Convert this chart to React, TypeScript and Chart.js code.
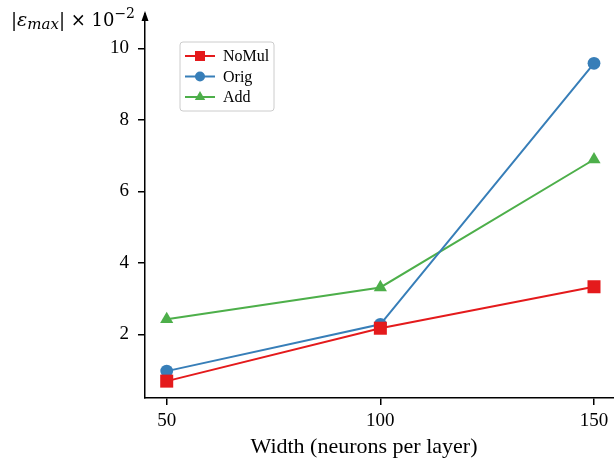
import React, { useEffect, useRef } from "react";
import { Chart, registerables } from "chart.js";

Chart.register(...registerables);

const widths = [50, 100, 150];
const noMul = [0.69, 2.17, 3.33];
const orig = [0.97, 2.28, 9.58];
const add = [2.42, 3.31, 6.89];
const xTicks = [50, 100, 150];
const yTicks = [2, 4, 6, 8, 10];
const seriesLabels = ["NoMul", "Orig", "Add"];
const seriesColors = ["#e41a1c", "#377eb8", "#4daf4a"];
const xTitle = "Width (neurons per layer)";

const SERIF = "'Liberation Serif', 'Times New Roman', serif";
const MATH = "'DejaVu Serif', serif";

const PLOT_RIGHT = 614;

const areaPlugin = {
  id: "forceArea",
  afterLayout(chart: any) {
    const a = chart.chartArea;
    if (a.right !== PLOT_RIGHT) {
      a.right = PLOT_RIGHT;
      a.width = a.right - a.left;
      const xs = chart.scales.x;
      xs.right = PLOT_RIGHT;
      xs.width = xs.right - xs.left;
      xs.configure();
    }
  },
};

const decorPlugin = {
  id: "decor",
  afterDraw(chart: any) {
    const ctx = chart.ctx as CanvasRenderingContext2D;
    const area = chart.chartArea;
    ctx.save();
    // y axis arrow
    ctx.fillStyle = "#000";
    ctx.beginPath();
    ctx.moveTo(area.left, area.top - 3);
    ctx.lineTo(area.left - 3.5, area.top + 7);
    ctx.lineTo(area.left + 3.5, area.top + 7);
    ctx.closePath();
    ctx.fill();

    // y title: |ε_max| × 10^-2
    ctx.textBaseline = "alphabetic";
    ctx.textAlign = "left";
    let x = 11;
    const base = 26;
    const put = (t: string, font: string, dy = 0) => {
      ctx.font = font;
      ctx.fillText(t, x, base + dy);
      x += ctx.measureText(t).width;
    };
    put("|", `18px ${MATH}`);
    put("ε", `italic 19px ${MATH}`);
    put("max", `italic 15px ${MATH}`, 3);
    put("|", `18px ${MATH}`);
    put(" × 10", `18px ${MATH}`);
    put("−2", `14px ${MATH}`, -8);

    // x title
    ctx.font = `22px ${SERIF}`;
    ctx.textAlign = "center";
    ctx.fillText(xTitle, 364, 453);

    // legend
    const lx = 180, ly = 42, lw = 94, lh = 69;
    ctx.beginPath();
    const r = 3;
    ctx.moveTo(lx + r, ly);
    ctx.lineTo(lx + lw - r, ly);
    ctx.quadraticCurveTo(lx + lw, ly, lx + lw, ly + r);
    ctx.lineTo(lx + lw, ly + lh - r);
    ctx.quadraticCurveTo(lx + lw, ly + lh, lx + lw - r, ly + lh);
    ctx.lineTo(lx + r, ly + lh);
    ctx.quadraticCurveTo(lx, ly + lh, lx, ly + lh - r);
    ctx.lineTo(lx, ly + r);
    ctx.quadraticCurveTo(lx, ly, lx + r, ly);
    ctx.closePath();
    ctx.fillStyle = "rgba(255,255,255,0.85)";
    ctx.fill();
    ctx.strokeStyle = "#cccccc";
    ctx.lineWidth = 1;
    ctx.stroke();

    chart.data.datasets.forEach((ds: any, i: number) => {
      const cy = 56 + i * 20.5;
      ctx.strokeStyle = ds.borderColor;
      ctx.lineWidth = 2;
      ctx.beginPath();
      ctx.moveTo(185, cy);
      ctx.lineTo(215, cy);
      ctx.stroke();
      ctx.fillStyle = ds.borderColor;
      ctx.beginPath();
      if (ds.pointStyle === "rect") {
        ctx.rect(200 - 5, cy - 5, 10, 10);
      } else if (ds.pointStyle === "circle") {
        ctx.arc(200, cy, 5, 0, Math.PI * 2);
      } else {
        const rr = 6;
        ctx.moveTo(200, cy - rr);
        ctx.lineTo(200 + rr * 0.866, cy + rr * 0.5);
        ctx.lineTo(200 - rr * 0.866, cy + rr * 0.5);
        ctx.closePath();
      }
      ctx.fill();
      ctx.fillStyle = "#000";
      ctx.font = `16px ${SERIF}`;
      ctx.textAlign = "left";
      ctx.textBaseline = "middle";
      ctx.fillText(ds.label, 223, cy + 1);
    });
    ctx.restore();
  },
};

export default function App() {
  const ref = useRef<HTMLCanvasElement>(null);
  useEffect(() => {
    if (!ref.current) return;
    const series = [noMul, orig, add];
    const styles = ["rect", "circle", "triangle"];
    const radii = [9.2, 6.4, 7.6];
    const chart = new Chart(ref.current, {
      type: "line",
      data: {
        datasets: series.map((vals, i) => ({
          label: seriesLabels[i],
          data: widths.map((w, j) => ({ x: w, y: vals[j] })),
          borderColor: seriesColors[i],
          backgroundColor: seriesColors[i],
          pointBackgroundColor: seriesColors[i],
          pointBorderColor: seriesColors[i],
          pointBorderWidth: 0,
          borderWidth: 2,
          pointStyle: styles[i] as any,
          pointRadius: radii[i],
          tension: 0,
          clip: false as any,
        })),
      },
      options: {
        responsive: false,
        animation: false,
        layout: { padding: { top: 14, right: 0, left: 0, bottom: 0 } },
        plugins: { legend: { display: false }, tooltip: { enabled: false } },
        scales: {
          x: {
            type: "linear",
            min: 44.92,
            max: 154.68,
            afterBuildTicks: (s: any) => {
              s.ticks = xTicks.map((v) => ({ value: v }));
            },
            afterFit: (s: any) => {
              s.height = 62;
              s.paddingLeft = 0;
              s.paddingRight = 0;
            },
            grid: {
              drawOnChartArea: false,
              tickLength: 7,
              tickColor: "#000",
              lineWidth: 1.5,
            },
            border: { color: "#000", width: 1.5 },
            ticks: {
              color: "#000",
              padding: 5,
              maxRotation: 0,
              font: { family: SERIF, size: 19 },
              callback: (v: any) => String(v),
            },
          },
          y: {
            type: "linear",
            min: 0.218,
            max: 10.96,
            afterBuildTicks: (s: any) => {
              s.ticks = yTicks.map((v) => ({ value: v }));
            },
            afterFit: (s: any) => {
              s.width = 145;
              s.paddingTop = 0;
              s.paddingBottom = 0;
            },
            grid: {
              drawOnChartArea: false,
              tickLength: 7,
              tickColor: "#000",
              lineWidth: 1.5,
            },
            border: { color: "#000", width: 1.5 },
            ticks: {
              color: "#000",
              padding: 9,
              font: { family: SERIF, size: 19 },
              callback: (v: any) => String(v),
            },
          },
        },
      },
      plugins: [areaPlugin, decorPlugin],
    });
    return () => chart.destroy();
  }, []);
  return (
    <div style={{ position: "fixed", left: 0, top: 0, width: 614, height: 460, background: "#fff" }}>
      <canvas ref={ref} width={614} height={460} style={{ width: 614, height: 460, display: "block" }} />
    </div>
  );
}
